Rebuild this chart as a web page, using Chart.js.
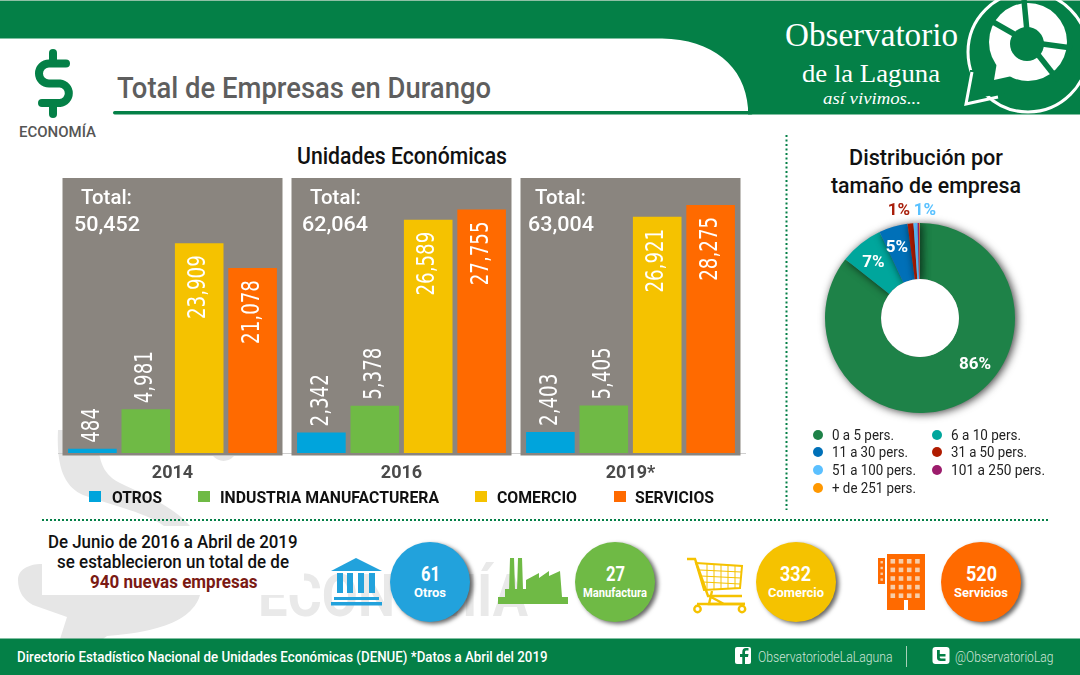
<!DOCTYPE html>
<html lang="es"><head><meta charset="utf-8">
<script src="https://cdn.jsdelivr.net/npm/chart.js@4"></script>
<style>
html,body{margin:0;padding:0;background:#fff;width:1080px;height:675px;overflow:hidden}
#page{position:relative;width:1080px;height:675px;overflow:hidden;font-family:Roboto,sans-serif}
svg.bg{position:absolute;left:0;top:0}
canvas{position:absolute}
.t{position:absolute;white-space:nowrap;transform-origin:0 50%;line-height:1}
.sw{position:absolute}
.c{position:absolute;border-radius:50%;width:80px;height:80px;box-shadow:3px 2px 4px rgba(0,0,0,.6)}
</style></head><body><div id="page">
<svg class="bg" width="1080" height="675" viewBox="0 0 1080 675">
 <!-- watermark -->
 <path d="M58 430H98C97 462 104 475 120 483C140 493 172 505 190 526H164C145 512 110 505 83 495C66 487 56 470 58 430Z" fill="#e6e6e6"/>
 <path d="M213 456C218 462 228 463 234 456Z" fill="#e6e6e6"/>
 <path d="M18 580C18 570 28 564 42 564V595H200C196 610 180 622 157 628C140 633 120 635 107 636L103 639H60L67 617L33 605C24 600 18 592 18 580Z" fill="#e6e6e6"/>
 <text x="258" y="616" font-family="Roboto" font-weight="700" font-size="60" fill="#e9e9e9" textLength="270" lengthAdjust="spacingAndGlyphs">ECONOMÍA</text>
 <!-- header -->
 <path d="M0 0H1080V114.5H748V108C745 66 712 39 662 38.5H0Z" fill="#048047"/>
 <rect x="0" y="0" width="1080" height="1" fill="#8fc0a5"/>
 <rect x="113" y="111" width="640" height="3.5" rx="1.7" fill="#048047"/>
 <!-- logo -->
 <circle cx="1028" cy="52" r="60" fill="none" stroke="#fff" stroke-width="3"/>
 <path d="M970 70 L969 100 L998 94 L1010 100 L985 70Z" fill="#048047"/>
 <path d="M972 72L966 104L998 97" fill="none" stroke="#fff" stroke-width="3" stroke-linejoin="miter"/>
 <circle cx="1028" cy="42" r="39" fill="#fff"/>
 <path d="M997 62L994 80L1012 76Z" fill="#fff"/>
 <g stroke="#048047" stroke-width="5.5">
  <line x1="1028" y1="42" x2="1024" y2="0"/>
  <line x1="1028" y1="42" x2="986" y2="18"/>
  <line x1="1028" y1="42" x2="1072" y2="48"/>
  <line x1="1028" y1="42" x2="1058" y2="80"/>
 </g>
 <circle cx="1027" cy="44" r="17" fill="#048047"/>
 <!-- dollar -->
 <g fill="none" stroke="#048047" stroke-width="8" stroke-linecap="round">
  <path d="M66 63.500H49A10 10 0 0 0 49 83.500H60A9.800 9.800 0 0 1 60 103H42"/>
  <line x1="53" y1="53" x2="53" y2="63"/><line x1="53" y1="103" x2="53" y2="114"/>
 </g>
 <!-- dotted rules -->
 <line x1="42" y1="520" x2="1048" y2="520" stroke="#048047" stroke-width="2" stroke-dasharray="2 2"/>
 <line x1="786.5" y1="135" x2="786.5" y2="510" stroke="#048047" stroke-width="2" stroke-dasharray="2 2.5"/>
 <!-- bank -->
 <g fill="#22a2dc">
  <path d="M331 571L356 558L382 571Z"/>
  <rect x="337" y="573" width="6" height="20"/><rect x="347" y="573" width="6" height="20"/><rect x="358" y="573" width="6" height="20"/><rect x="369" y="573" width="6" height="20"/>
  <rect x="334" y="597" width="45" height="3"/><rect x="331" y="602" width="51" height="3.5"/>
 </g>
 <!-- factory -->
 <g fill="#6fba45">
  <path d="M510 558H514L515 590H509Z"/><path d="M518 558H522L523 590H517Z"/>
  <path d="M505 589H526V580L539 573V578L549 571V576L560 571L562 597H568V604H498V597H505Z"/>
 </g>
 <!-- cart -->
 <g fill="none" stroke="#f5c200" stroke-width="2.4">
  <path d="M687 559H695L708 596H742"/>
  <path d="M696 563L742 566L740 588L704 590Z" stroke-width="2"/>
  <path d="M700 570L741 572M701 576L741 578M703 582L740 584M707 564V589M714 564V589M721 565V589M728 565V589M735 565V589" stroke-width="1"/>
  <path d="M712 591L709 604H745M711 597L724 604" />
  <circle cx="697.5" cy="609" r="3.2"/><circle cx="742" cy="609" r="3.2"/>
  <path d="M697 604H745"/>
 </g>
 <!-- building -->
 <rect x="887" y="554" width="38" height="56" fill="#ff6a00"/>
 <rect x="878" y="558" width="7" height="26" fill="#ff6a00"/>
 <g id="wins" fill="#f7cda8"></g>
 <rect x="904" y="600" width="4" height="10" fill="#fff"/>
 <!-- footer -->
 <rect x="0" y="638.5" width="1080" height="36.5" fill="#048047"/>
 <rect x="735" y="647" width="16" height="17" rx="2" fill="#fff"/>
 <path d="M745 664V657H748L748.5 654H745V652C745 651 745.5 650.5 746.5 650.5H748.5V648H746C743.5 648 742.3 649.5 742.3 652V654H740V657H742.3V664Z" fill="#048047"/>
 <rect x="932.5" y="647" width="17" height="17" rx="3" fill="#fff"/>
 <path d="M937 650V658C937 660 938.500 661 940.500 661H945.500V658.500H941C940 658.500 939.800 658 939.800 657.300V656.500H945.500V654H939.800V650Z" fill="#048047"/>
 <line x1="906.5" y1="646" x2="906.5" y2="667" stroke="#a8d0b8" stroke-width="1"/>
</svg>
<canvas id="bars" width="763" height="332" style="left:20px;top:170px;width:763px;height:332px"></canvas>
<canvas id="donut" width="240" height="240" style="left:800px;top:198px;width:240px;height:240px"></canvas>
</div>
<script>
// ---------- data ----------
const years = ['2014','2016','2019*'];
const otros = [484,2342,2403];
const manufactura = [4981,5378,5405];
const comercio = [23909,26589,26921];
const servicios = [21078,27755,28275];
const totals = ['50,452','62,064','63,004'];
const seriesNames = ['OTROS','INDUSTRIA MANUFACTURERA','COMERCIO','SERVICIOS'];
const sizeCategories = ['0 a 5 pers.','6 a 10 pers.','11 a 30 pers.','31 a 50 pers.','51 a 100 pers.','101 a 250 pers.','+ de 251 pers.'];
const sizeShares = [85.6,7.4,4.9,1.0,0.7,0.3,0.1];
const sizeLabels = ['86%','7%','5%','1%','1%','',''];
const newCounts = ['61','27','332','520'];
const newNames = ['Otros','Manufactura','Comercio','Servicios'];

// ---------- styles ----------
const barColors = ['#00a4dc','#6fba45','#f5c200','#ff6a00'];
const sizeColors = ['#1e8248','#00a69c','#0070b8','#b01c00','#5bc0ff','#9c1c6c','#ff9800'];
const circleColors = ['#22a2dc','#6fba45','#f5c200','#ff6a00'];
const labelColors = ['#fff','#fff','#fff','#a81e0a','#59c1ff'];
const labelOffsets = [[55,47],[-46.5,-55],[-23,-70],[-21,-107],[5,-107]];
const page = document.getElementById('page');

function T(text,x,w,cy,size,color,weight,extra){
  const s=document.createElement('span');s.className='t';s.textContent=text;
  s.style.cssText=`left:${x}px;top:${cy}px;font-size:${size}px;color:${color};font-weight:${weight||400};${extra||''}`;
  page.appendChild(s);
  const k=w/s.getBoundingClientRect().width;
  s.style.transform=`translateY(-50%) scaleX(${k})`;
  return s;
}
function whiteBox(){
  const b=document.createElement('div');b.className='sw';
  b.style.cssText='left:42px;top:526px;width:262px;height:69px;background:#fff';
  page.appendChild(b);
}
whiteBox();
const serif='font-family:"Liberation Serif",serif;';
T('Total de Empresas en Durango',117,374,88,30,'#5e5e5e',500);
T('ECONOMÍA',18.5,77,133,15.5,'#555',500);
T('Observatorio',785,173,35,33,'#fff',400,serif);
T('de la Laguna',802,138,73,25,'#fff',400,serif);
T('así vivimos...',823,98,98.5,16,'#fff',400,serif+'font-style:italic;');
T('Unidades Económicas',297,210,156,23,'#111',500);
T('Distribución por',849,154,158,22,'#111',500);
T('tamaño de empresa',831,190,186,22,'#111',500);
T('De Junio de 2016 a Abril de 2019',48,249.5,542,18,'#111',500);
T('se establecieron un total de de',57,232,562,18,'#111',500);
T('940 nuevas empresas',89.5,167.5,581.5,18,'#7a1a14',700);
T('Directorio Estadístico Nacional de Unidades Económicas (DENUE) *Datos a Abril del 2019',17,530.5,657.5,15.5,'#fff',500);
T('ObservatoriodeLaLaguna',757.5,134.5,657,14,'#cfe4d8',300);
T('@ObservatorioLag',955,98.5,657,14,'#cfe4d8',300);

// totals over the panels
const totalX=[[81,74],[309.5,301.7],[535,527.6]];
totals.forEach((v,i)=>{
  T('Total:',totalX[i][0],51,197,21,'#fff',500);
  T(v,totalX[i][1],66,224,21,'#fff',500);
});

// bar legend
const legX=[[89,112,50],[197.5,220,219],[475,497,80],[613.5,635,79]];
seriesNames.forEach((n,i)=>{
  const b=document.createElement('div');b.className='sw';
  b.style.cssText=`left:${legX[i][0]}px;top:491px;width:12px;height:11px;background:${barColors[i]}`;
  page.appendChild(b);
  T(n,legX[i][1],legX[i][2],497,17,'#111',700);
});

// donut legend
const dlX=[[818,831.5],[937,950.5]];
const dlY=[434.7,452.3,470,487.7];
const dlW=[62,70,76,76,84,94,84];
sizeCategories.forEach((n,i)=>{
  const col=i%2,row=i>>1;
  const b=document.createElement('div');b.className='sw';
  b.style.cssText=`left:${dlX[col][0]-5}px;top:${dlY[row]-5}px;width:10px;height:10px;border-radius:50%;background:${sizeColors[i]}`;
  page.appendChild(b);
  T(n,dlX[col][1],dlW[i],dlY[row],14,'#222',400);
});

// summary circles
const cX=[390,575,755.5,941];
const cNameW=[32,64,56,54], cNumW=[19,19,31,31];
newCounts.forEach((v,i)=>{
  const d=document.createElement('div');d.className='c';
  d.style.cssText=`left:${cX[i]}px;top:541.5px;background:${circleColors[i]}`;
  page.appendChild(d);
  T(v,cX[i]+40-cNumW[i]/2,cNumW[i],573.5,20,'#fff',700);
  T(newNames[i],cX[i]+40-cNameW[i]/2,cNameW[i],592,13,'#fff',700);
});

// building windows
const wins=document.getElementById('wins');
let wh='';
for(let r=0;r<5;r++)for(let c=0;c<4;c++)wh+=`<rect x="${890.5+c*8.2}" y="${559+r*8.6}" width="4.6" height="4.6"/>`;
for(let r=0;r<4;r++)wh+=`<rect x="880.5" y="${561+r*5.8}" width="2.4" height="2.4"/>`;
wins.innerHTML=wh;

// ---------- plugins ----------
const panelTop=31342;
const panelPlugin={id:'panels',beforeDatasetsDraw(c){
  const {ctx,scales:{x,y}}=c;
  ctx.save();ctx.fillStyle='#8a857f';
  years.forEach((_,i)=>{
    const cx=x.getPixelForValue(i);
    const t=y.getPixelForValue(panelTop);
    ctx.fillRect(cx-110,t,220,y.bottom+2.5-t);
  });
  ctx.restore();
}};
const barLabelPlugin={id:'barLabels',afterDatasetsDraw(c){
  const ctx=c.ctx;ctx.save();
  ctx.fillStyle='#fff';ctx.font='24px "DejaVu Sans"';ctx.textBaseline='middle';
  c.data.datasets.forEach((ds,di)=>{
    c.getDatasetMeta(di).data.forEach((el,i)=>{
      const v=ds.data[i];
      ctx.save();
      const inside=v>10000;
      ctx.translate(el.x,inside?el.y+12:el.y-6);
      ctx.rotate(-Math.PI/2);
      ctx.scale(.76,1);
      ctx.textAlign=inside?'right':'left';
      ctx.fillText(v.toLocaleString('en-US'),0,0);
      ctx.restore();
    });
  });
  ctx.restore();
}};
const shadowPlugin={id:'arcShadow',
  beforeDatasetsDraw(c){const x=c.ctx;x.save();x.shadowColor='rgba(0,0,0,.75)';x.shadowBlur=9;x.shadowOffsetX=2;x.shadowOffsetY=1;},
  afterDatasetsDraw(c){
    const ctx=c.ctx;ctx.restore();
    const a=c.getDatasetMeta(0).data[0];
    ctx.save();ctx.fillStyle='#fff';ctx.beginPath();ctx.arc(a.x,a.y,a.innerRadius,0,Math.PI*2);ctx.fill();
    ctx.font='700 17px Roboto';ctx.textAlign='center';ctx.textBaseline='middle';
    sizeLabels.forEach((l,i)=>{ if(!l)return; ctx.fillStyle=labelColors[i];
      ctx.fillText(l,a.x+labelOffsets[i][0],a.y+labelOffsets[i][1]);});
    ctx.restore();
  }};

// ---------- charts ----------
new Chart(document.getElementById('bars'),{
  type:'bar',
  data:{labels:years,datasets:[otros,manufactura,comercio,servicios].map((d,i)=>({
    label:seriesNames[i],data:d,backgroundColor:barColors[i],
    categoryPercentage:.933,barPercentage:.91}))},
  options:{responsive:false,animation:false,
    layout:{padding:{left:38,right:38,top:8,bottom:7.4}},
    plugins:{legend:{display:false},tooltip:{enabled:false},title:{display:false}},
    scales:{
      x:{grid:{display:false,drawTicks:false},border:{color:'#cfcfcf',width:1},
        ticks:{color:'#4a4a4a',padding:10,font:{family:'Roboto',size:18,weight:'700'}}},
      y:{display:false,min:0,max:panelTop}
    }},
  plugins:[panelPlugin,barLabelPlugin]
});
new Chart(document.getElementById('donut'),{
  type:'doughnut',
  data:{labels:sizeCategories,datasets:[{data:sizeShares,backgroundColor:sizeColors,borderWidth:0,clip:false}]},
  options:{responsive:false,animation:false,radius:95,cutout:'41%',
    plugins:{legend:{display:false},tooltip:{enabled:false}}},
  plugins:[shadowPlugin]
});
</script></body></html>
